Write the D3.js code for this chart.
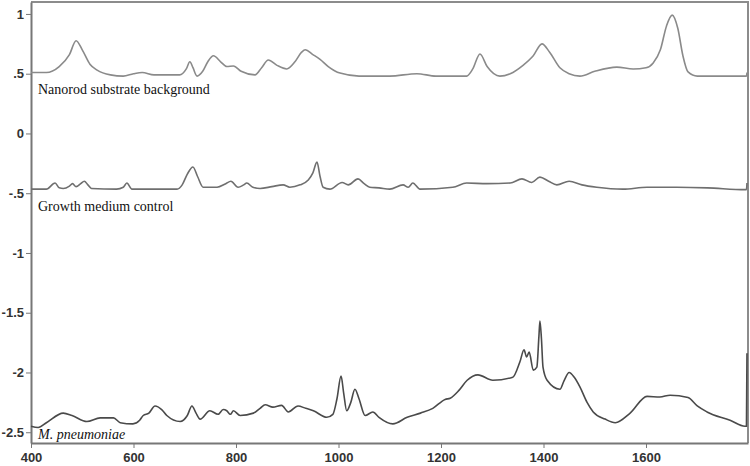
<!DOCTYPE html>
<html>
<head>
<meta charset="utf-8">
<script src="https://cdn.jsdelivr.net/npm/d3@7"></script>
<style>
  body { margin: 0; background: #fff; }
  .tick text { font-family: "Liberation Sans", Arial, sans-serif; font-size: 13px; font-weight: bold; fill: #333; }
  .lbl { font-family: "Liberation Serif", "Times New Roman", serif; font-size: 14px; fill: #111; }
</style>
</head>
<body>
<svg id="chart" width="750" height="466"></svg>
<script>
// spectra: [wavenumber, intensity]
var nanorod = [[400,0.51],[430,0.51],[455,0.56],[475,0.66],[488,0.776],[500,0.70],[515,0.58],[529,0.53],[555,0.49],[580,0.48],[600,0.50],[617,0.51],[640,0.49],[690,0.49],[703,0.54],[710,0.60],[716,0.55],[724,0.48],[735,0.52],[745,0.60],[756,0.65],[770,0.60],[782,0.56],[795,0.565],[810,0.52],[837,0.49],[850,0.55],[863,0.615],[880,0.57],[899,0.54],[915,0.60],[928,0.68],[935,0.70],[950,0.66],[964,0.62],[980,0.56],[1003,0.505],[1040,0.48],[1100,0.48],[1153,0.50],[1190,0.48],[1250,0.48],[1262,0.54],[1276,0.665],[1290,0.56],[1315,0.48],[1335,0.50],[1360,0.57],[1380,0.65],[1397,0.75],[1412,0.68],[1432,0.55],[1450,0.50],[1471,0.48],[1500,0.52],[1543,0.555],[1575,0.54],[1600,0.55],[1614,0.59],[1628,0.70],[1640,0.90],[1651,0.99],[1662,0.88],[1672,0.65],[1682,0.515],[1700,0.48],[1750,0.48],[1796,0.48],[1797,0.51]];

var medium = [[400,-0.466],[430,-0.466],[447,-0.415],[455,-0.455],[463,-0.46],[475,-0.44],[481,-0.42],[488,-0.445],[497,-0.42],[504,-0.40],[511,-0.43],[518,-0.46],[567,-0.466],[580,-0.45],[587,-0.415],[597,-0.466],[685,-0.466],[695,-0.43],[705,-0.34],[716,-0.28],[725,-0.36],[736,-0.45],[763,-0.45],[780,-0.42],[790,-0.40],[804,-0.45],[815,-0.43],[821,-0.415],[833,-0.45],[847,-0.46],[870,-0.445],[892,-0.43],[905,-0.45],[925,-0.43],[941,-0.39],[950,-0.33],[958,-0.24],[964,-0.36],[970,-0.45],[983,-0.466],[1007,-0.41],[1019,-0.43],[1038,-0.38],[1050,-0.42],[1061,-0.45],[1079,-0.455],[1100,-0.466],[1126,-0.43],[1136,-0.45],[1145,-0.415],[1159,-0.466],[1223,-0.45],[1250,-0.415],[1290,-0.42],[1335,-0.415],[1358,-0.38],[1377,-0.41],[1393,-0.365],[1410,-0.40],[1426,-0.43],[1450,-0.40],[1475,-0.43],[1504,-0.45],[1555,-0.466],[1602,-0.45],[1660,-0.45],[1720,-0.455],[1793,-0.47],[1796,-0.47],[1797,-0.415]];

var pneumoniae = [[400,-2.45],[414,-2.46],[430,-2.42],[463,-2.34],[480,-2.36],[509,-2.41],[535,-2.38],[561,-2.38],[574,-2.42],[599,-2.43],[612,-2.40],[619,-2.36],[630,-2.34],[642,-2.28],[655,-2.31],[665,-2.36],[691,-2.41],[705,-2.36],[714,-2.28],[722,-2.34],[730,-2.39],[749,-2.32],[765,-2.35],[775,-2.31],[782,-2.32],[789,-2.35],[795,-2.32],[808,-2.36],[834,-2.34],[847,-2.30],[857,-2.27],[872,-2.29],[889,-2.275],[902,-2.33],[921,-2.28],[936,-2.30],[951,-2.32],[977,-2.375],[989,-2.35],[997,-2.22],[1005,-2.03],[1010,-2.17],[1016,-2.32],[1024,-2.25],[1032,-2.14],[1040,-2.22],[1052,-2.36],[1067,-2.33],[1079,-2.375],[1106,-2.43],[1134,-2.375],[1160,-2.34],[1184,-2.30],[1208,-2.225],[1218,-2.215],[1235,-2.15],[1251,-2.065],[1272,-2.02],[1301,-2.065],[1340,-2.04],[1354,-1.91],[1362,-1.81],[1367,-1.87],[1372,-1.83],[1380,-1.98],[1387,-1.955],[1391,-1.70],[1393,-1.57],[1396,-1.72],[1399,-1.955],[1407,-2.065],[1432,-2.14],[1440,-2.07],[1450,-2.00],[1460,-2.04],[1471,-2.12],[1485,-2.25],[1497,-2.33],[1520,-2.39],[1540,-2.42],[1569,-2.34],[1602,-2.20],[1627,-2.205],[1647,-2.19],[1682,-2.21],[1700,-2.28],[1719,-2.33],[1764,-2.40],[1793,-2.45],[1796,-2.45],[1797,-1.84]];

var xTicks = [400, 600, 800, 1000, 1200, 1400, 1600];
var yTicks = [1, 0.5, 0, -0.5, -1, -1.5, -2, -2.5];
var yTickLabels = ["1", ".5", "0", "-.5", "-1", "-1.5", "-2", "-2.5"];
var seriesNames = ["Nanorod substrate background", "Growth medium control", "M. pneumoniae"];

var margin = {top: 2, right: 2, bottom: 23, left: 31};
var svg = d3.select("#chart");
var width = 750 - margin.left - margin.right;
var height = 466 - margin.top - margin.bottom;
var g = svg.append("g").attr("transform", "translate(" + margin.left + "," + margin.top + ")");

var xScale = d3.scaleLinear().domain([400, 1799]).range([0, width]);
var yScale = d3.scaleLinear().domain([-2.59, 1.1]).range([height, 0]);

// frame (top and right)
g.append("path")
    .attr("d", "M0,0H" + width + "V" + height)
    .attr("fill", "none")
    .attr("stroke", "#8c8c8c")
    .attr("stroke-width", 2);

var xAxis = g.append("g")
    .attr("transform", "translate(0," + height + ")")
    .call(d3.axisBottom(xScale).tickValues(xTicks).tickSize(5).tickSizeOuter(0).tickFormat(d3.format("d")));
var yAxis = g.append("g")
    .call(d3.axisLeft(yScale).tickValues(yTicks).tickSize(5).tickSizeOuter(0)
        .tickFormat(function (d, i) { return yTickLabels[i]; }));

[xAxis, yAxis].forEach(function (a) {
    a.select(".domain").attr("stroke", "#777").attr("stroke-width", 2);
    a.selectAll(".tick line").attr("stroke", "#777");
});
xAxis.selectAll(".tick text").attr("y", 7).attr("dy", "0.95em");
yAxis.selectAll(".tick text").attr("x", -7);

var line = d3.line()
    .x(function (d) { return xScale(d[0]); })
    .y(function (d) { return yScale(d[1]); })
    .curve(d3.curveMonotoneX);

var spectra = [nanorod, medium, pneumoniae];
var colors = ["#8a8a8a", "#6f6f6f", "#4a4a4a"];
g.selectAll("path.spec")
    .data(spectra)
    .enter().append("path")
    .attr("class", "spec")
    .attr("d", line)
    .attr("fill", "none")
    .attr("stroke", function (d, i) { return colors[i]; })
    .attr("stroke-width", 1.6);

// series labels
var labelY = [0.33, -0.65, -2.56];
g.selectAll("text.lbl")
    .data(seriesNames)
    .enter().append("text")
    .attr("class", "lbl")
    .attr("x", 7)
    .attr("y", function (d, i) { return yScale(labelY[i]); })
    .style("font-style", function (d, i) { return i === 2 ? "italic" : "normal"; })
    .text(function (d) { return d; });
</script>
</body>
</html>
